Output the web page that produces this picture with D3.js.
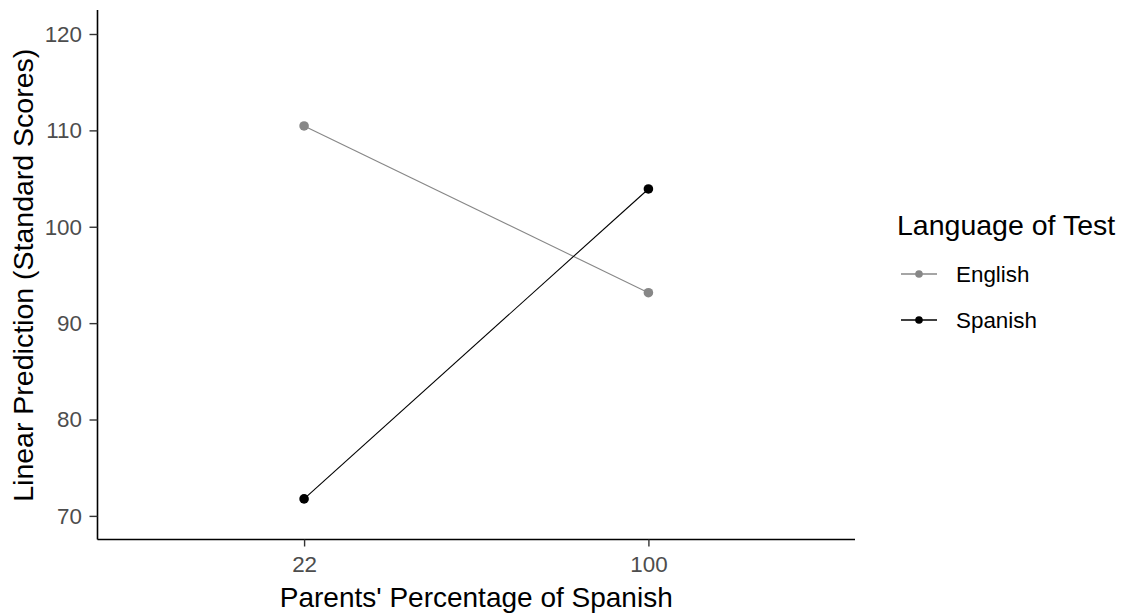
<!DOCTYPE html>
<html>
<head>
<meta charset="utf-8">
<script src="https://cdn.jsdelivr.net/npm/d3@7"></script>
<style>
  html, body { margin: 0; padding: 0; background: #fff; }
  svg { display: block; font-family: "Liberation Sans", Arial, sans-serif; }
</style>
</head>
<body>
<svg id="chart" width="1122" height="615"></svg>
<script>
const categories = ["22", "100"];
const seriesNames = ["English", "Spanish"];
const englishValues = [110.46, 93.16];
const spanishValues = [71.76, 103.92];
const yTicks = [70, 80, 90, 100, 110, 120];
const seriesColors = ["#878787", "#000000"];
const xTitle = "Parents' Percentage of Spanish";
const yTitle = "Linear Prediction (Standard Scores)";
const legendTitle = "Language of Test";

const series = [
  { name: seriesNames[0], values: englishValues, color: seriesColors[0] },
  { name: seriesNames[1], values: spanishValues, color: seriesColors[1] }
];

const svg = d3.select("#chart");
const pLeft = 97.5, pRight = 855, pTop = 10, pBottom = 539.5;

const x = d3.scalePoint().domain(categories).range([pLeft, pRight]).padding(0.6);
const y = d3.scaleLinear().domain([67.55, 122.49]).range([pBottom, pTop]);

// Y axis
const yAxis = svg.append("g")
  .attr("transform", `translate(${pLeft},0)`)
  .call(d3.axisLeft(y).tickValues(yTicks).tickSize(8).tickPadding(7.5).tickSizeOuter(0));
yAxis.select(".domain").attr("stroke", "#000").attr("stroke-width", 1.6).attr("d", `M0,${pTop}V${pBottom}`);
yAxis.selectAll(".tick line").attr("stroke", "#333").attr("stroke-width", 1.4);
yAxis.selectAll(".tick text").attr("fill", "#4D4D4D").attr("font-size", 22.4).attr("font-family", "Liberation Sans, Arial, sans-serif").attr("dy", "0.33em");

// X axis
const xAxis = svg.append("g")
  .attr("transform", `translate(0,${pBottom})`)
  .call(d3.axisBottom(x).tickSize(7).tickPadding(10).tickSizeOuter(0));
xAxis.select(".domain").attr("stroke", "#000").attr("stroke-width", 1.6).attr("d", `M${pLeft},0H${pRight}`);
xAxis.selectAll(".tick line").attr("stroke", "#333").attr("stroke-width", 1.4);
xAxis.selectAll(".tick text").attr("fill", "#4D4D4D").attr("font-size", 22.4).attr("font-family", "Liberation Sans, Arial, sans-serif");

// Axis titles
svg.append("text")
  .attr("x", (pLeft + pRight) / 2).attr("y", 607)
  .attr("text-anchor", "middle").attr("font-size", 28).attr("fill", "#000")
  .text(xTitle);
svg.append("text")
  .attr("transform", `translate(33,${(pTop + pBottom) / 2 + 0.5}) rotate(-90)`)
  .attr("text-anchor", "middle").attr("font-size", 28.5).attr("fill", "#000")
  .text(yTitle);

// Lines and points
const line = d3.line().x((d, i) => x(categories[i])).y(d => y(d));
const g = svg.append("g");
series.forEach(s => {
  g.append("path").datum(s.values)
    .attr("d", line).attr("fill", "none")
    .attr("stroke", s.color).attr("stroke-width", 1.1);
});
series.forEach(s => {
  g.selectAll(null).data(s.values).enter().append("circle")
    .attr("cx", (d, i) => x(categories[i])).attr("cy", d => y(d))
    .attr("r", 4.8).attr("fill", s.color);
});

// Legend
const lg = svg.append("g").attr("transform", "translate(897,0)");
lg.append("text").attr("x", 0).attr("y", 235)
  .attr("font-size", 28.5).attr("fill", "#000").text(legendTitle);
series.forEach((s, i) => {
  const ky = 274 + i * 46;
  lg.append("line").attr("x1", 4).attr("x2", 40).attr("y1", ky).attr("y2", ky)
    .attr("stroke", s.color).attr("stroke-width", 1.3);
  lg.append("circle").attr("cx", 22).attr("cy", ky).attr("r", 3.8).attr("fill", s.color);
  lg.append("text").attr("x", 59).attr("y", ky + 8)
    .attr("font-size", 22.4).attr("fill", "#000").text(s.name);
});
</script>
</body>
</html>
